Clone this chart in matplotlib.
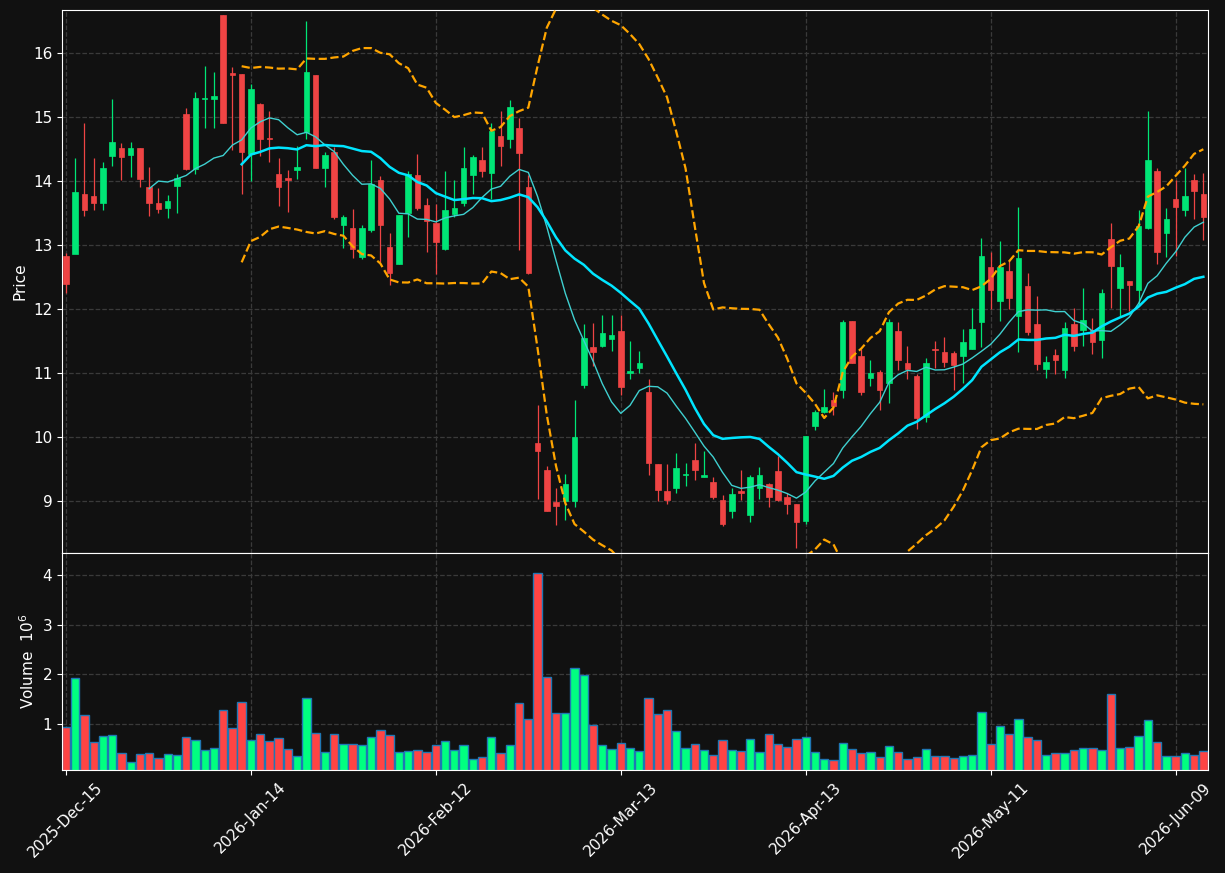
import matplotlib
matplotlib.use("Agg")
import matplotlib.pyplot as plt
import numpy as np
import pandas as pd

opens = [12.83,12.86,13.79,13.77,13.65,14.39,14.51,14.40,14.51,13.91,13.65,13.58,13.92,15.04,14.19,15.28,15.28,16.59,15.68,15.67,
         14.42,15.20,14.67,14.11,14.05,14.17,14.77,15.66,14.20,14.45,13.32,13.26,12.81,13.23,14.01,12.97,12.70,13.50,14.10,13.62,
         13.34,12.93,13.49,13.66,14.09,14.33,14.125,14.71,14.65,14.83,13.91,9.90,9.49,8.99,9.00,9.00,10.82,11.40,11.43,11.53,
         11.65,11.00,11.08,10.70,9.58,9.15,9.20,9.40,9.64,9.38,9.30,9.02,8.85,9.16,8.79,9.21,9.27,9.47,9.07,8.96,
         8.69,10.18,10.39,10.58,10.74,11.82,11.26,10.93,11.02,10.85,11.65,11.16,10.95,10.31,11.38,11.33,11.32,11.26,11.37,11.80,
         12.65,12.12,12.60,11.89,12.36,11.77,11.07,11.28,11.05,11.77,11.68,11.68,11.52,13.10,12.33,12.44,12.30,13.26,14.16,13.18,
         13.72,13.55,14.01,13.80]
closes = [12.39,13.83,13.55,13.65,14.21,14.61,14.37,14.51,14.03,13.65,13.57,13.69,14.04,14.18,15.29,15.30,15.32,14.91,15.66,14.46,
          15.43,14.65,14.65,13.90,14.02,14.22,15.70,14.20,14.40,13.43,13.43,12.93,13.26,13.96,13.31,12.57,13.47,14.11,13.58,13.38,
          13.04,13.55,13.58,14.20,14.37,14.15,14.78,14.54,15.16,14.44,12.57,9.79,8.84,8.93,9.26,10.00,11.55,11.33,11.63,11.60,
          10.78,11.03,11.15,9.60,9.18,9.02,9.52,9.42,9.49,9.40,9.07,8.65,9.11,9.13,9.37,9.40,9.07,9.02,8.96,8.68,
          10.02,10.39,10.47,10.49,11.79,11.15,10.71,11.00,10.74,11.79,11.21,11.07,10.30,11.15,11.36,11.18,11.13,11.48,11.69,12.83,
          12.30,12.65,12.18,12.79,11.64,11.14,11.17,11.20,11.71,11.42,11.83,11.48,12.25,12.67,12.65,12.37,13.30,14.33,12.89,13.40,
          13.59,13.76,13.84,13.43]
highs = [12.88,14.36,14.90,14.36,14.30,15.28,14.59,14.61,14.51,14.22,13.89,13.78,14.11,15.14,15.39,15.80,15.71,16.59,15.78,15.67,
         15.51,15.22,15.09,14.36,14.17,14.55,16.50,15.66,14.45,14.53,13.47,13.56,13.31,14.33,14.08,13.18,13.47,14.16,14.42,13.74,
         13.64,14.16,14.02,14.53,14.40,14.53,14.91,15.09,15.27,14.99,14.10,10.50,9.55,9.21,9.43,10.58,11.76,11.78,11.90,11.91,
         11.90,11.50,11.34,10.90,9.58,9.58,9.75,9.59,9.90,9.78,9.38,9.09,9.21,9.48,9.40,9.53,9.29,9.71,9.12,8.96,
         10.02,10.43,10.75,10.70,11.83,11.82,11.38,11.20,11.05,11.84,11.79,11.43,10.98,11.23,11.50,11.57,11.35,11.69,12.02,13.11,
         12.89,13.07,12.76,13.59,12.57,12.21,11.27,11.38,11.79,12.02,12.33,11.86,12.32,13.35,12.86,12.44,13.54,15.10,14.21,13.58,
         14.02,14.20,14.11,14.12]
lows = [12.25,12.95,13.46,13.54,13.55,14.24,14.02,14.06,13.91,13.46,13.50,13.42,13.50,14.17,14.11,14.83,14.83,14.91,14.48,13.80,
        14.00,14.39,14.30,13.61,13.52,14.03,14.65,14.20,13.91,13.41,12.95,12.79,12.78,13.21,12.73,12.38,12.70,13.12,13.55,12.89,
        12.55,12.92,13.44,13.61,13.80,14.07,13.72,14.23,14.51,12.92,12.55,9.04,8.84,8.62,8.71,8.91,10.77,11.11,11.40,11.34,
        10.66,10.90,11.00,9.40,9.00,8.95,9.13,9.24,9.33,9.37,9.04,8.61,8.74,9.02,8.68,9.04,8.91,9.00,8.80,8.26,
        8.64,10.11,10.38,10.35,10.61,11.15,10.65,10.79,10.42,10.53,11.05,10.91,10.13,10.23,11.08,11.10,10.73,10.84,11.37,11.40,
        12.00,11.81,12.00,11.33,11.60,11.05,10.93,10.98,10.93,11.35,11.42,11.29,11.23,12.02,11.89,11.97,12.07,13.25,12.71,12.82,
        12.83,13.45,13.41,13.08]
volumes = [0.94,1.93,1.18,0.64,0.76,0.78,0.42,0.23,0.40,0.42,0.32,0.40,0.38,0.74,0.68,0.48,0.52,1.28,0.92,1.44,
           0.68,0.80,0.66,0.72,0.50,0.36,1.52,0.82,0.44,0.80,0.60,0.60,0.58,0.74,0.88,0.78,0.44,0.46,0.48,0.44,
           0.58,0.66,0.48,0.58,0.30,0.34,0.74,0.42,0.58,1.42,1.10,4.04,1.95,1.22,1.22,2.13,1.99,0.98,0.58,0.50,
           0.62,0.52,0.46,1.52,1.20,1.28,0.86,0.52,0.60,0.48,0.38,0.68,0.48,0.46,0.70,0.44,0.80,0.60,0.54,0.70,
           0.74,0.44,0.30,0.28,0.62,0.50,0.42,0.44,0.34,0.56,0.44,0.30,0.34,0.50,0.36,0.36,0.32,0.36,0.38,1.24,
           0.60,0.96,0.80,1.10,0.74,0.68,0.38,0.42,0.42,0.48,0.52,0.52,0.48,1.60,0.52,0.54,0.76,1.08,0.64,0.36,
           0.36,0.42,0.38,0.46]
holidays = ["2025-12-25", "2026-01-01", "2026-01-19", "2026-02-16", "2026-04-03", "2026-05-25"]
dates = pd.bdate_range("2025-12-15", periods=len(closes), freq="C", holidays=holidays)

o = np.array(opens); c = np.array(closes); h = np.array(highs); l = np.array(lows); v = np.array(volumes)
n = len(c); x = np.arange(n)
cs = pd.Series(c)
ma10 = cs.rolling(10).mean()
ma20 = cs.rolling(20).mean()
sd20 = cs.rolling(20).std(ddof=0)
up_band = ma20 + 2 * sd20
lo_band = ma20 - 2 * sd20

BG = "#111111"
UP = "#00e676"; DN = "#ef4444"
VUP = "#00ff80"; VDN = "#ff4444"
fig = plt.figure(figsize=(12.25, 8.73), dpi=100, facecolor=BG)
ax = fig.add_axes([0.0506, 0.3666, 0.9355, 0.6219], facecolor=BG)
axv = fig.add_axes([0.0506, 0.118, 0.9355, 0.2486], facecolor=BG, sharex=ax)

upm = c >= o
cols = np.where(upm, UP, DN)
ax.vlines(x, l, h, colors=cols, linewidth=0.9, zorder=2)
body_bot = np.minimum(o, c); body_h = np.maximum(np.abs(c - o), 0.02)
ax.bar(x, body_h, bottom=body_bot, width=0.6, color=cols, edgecolor=cols, linewidth=0.5, zorder=3)
ax.plot(x, ma10, color="#3fd0d0", linewidth=1.0, zorder=4)
ax.plot(x, ma20, color="#00e5ff", linewidth=1.8, zorder=4)
ax.plot(x, up_band, color="#ffa500", linestyle="--", linewidth=1.6, zorder=4)
ax.plot(x, lo_band, color="#ffa500", linestyle="--", linewidth=1.6, zorder=4)
ax.set_ylim(8.19, 16.67)
ax.set_ylabel("Price", color="white", fontsize=11)

axv.bar(x, v, width=0.9, color=np.where(upm, VUP, VDN), edgecolor="#1f77b4", linewidth=1.0)
axv.set_ylim(0.075, 4.44)
axv.set_yticks([1, 2, 3, 4])
axv.set_ylabel("Volume  $10^6$", color="white", fontsize=11)

for a in (ax, axv):
    a.grid(True, color="#3a3a3a", linestyle="--", linewidth=0.9)
    a.set_axisbelow(True)
    for s in a.spines.values():
        s.set_color("white")
    a.tick_params(colors="white", labelsize=11)
ax.set_xlim(-0.43, n - 0.5)
ticks = list(range(0, n, 20))
axv.set_xticks(ticks)
axv.set_xticklabels([dates[i].strftime("%Y-%b-%d") for i in ticks], rotation=45, ha="center")
plt.setp(ax.get_xticklabels(), visible=False)

fig.savefig("out.png", dpi=100, facecolor=BG)
